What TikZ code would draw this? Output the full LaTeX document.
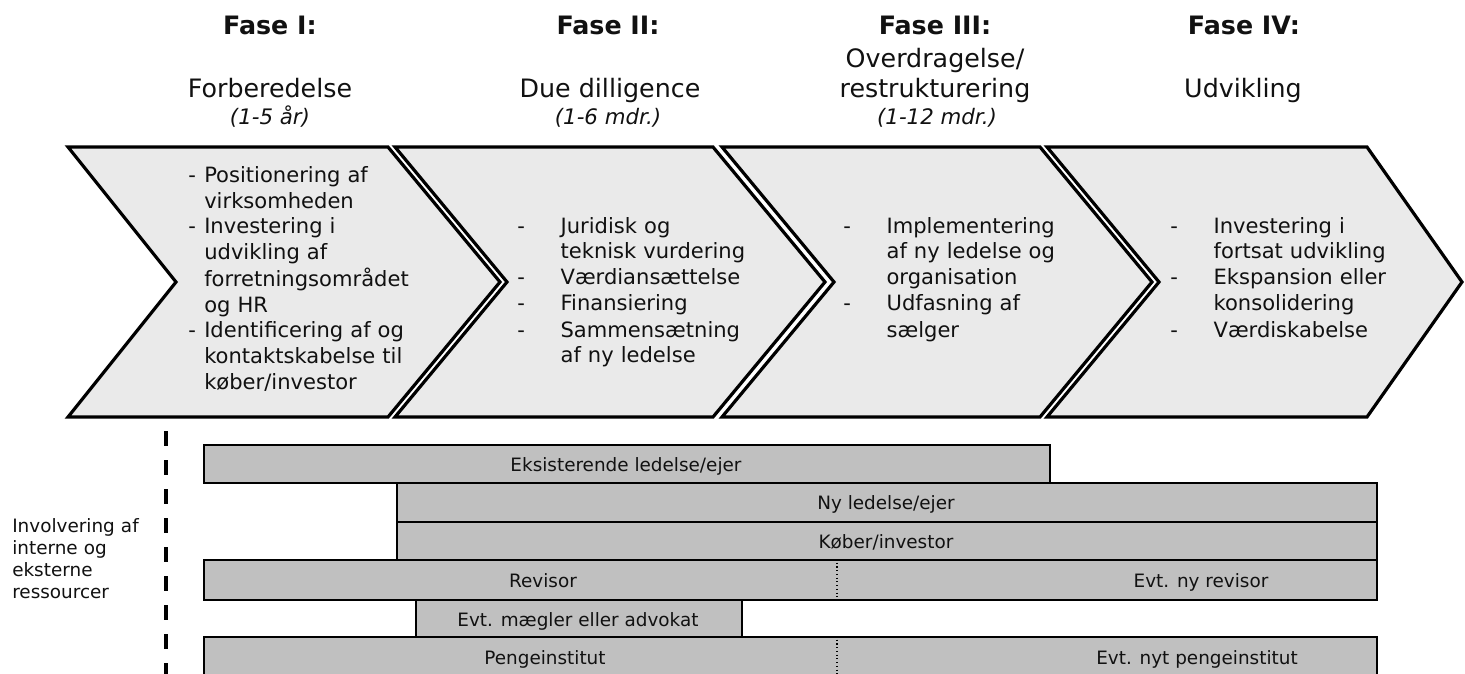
\documentclass[tikz,border=0pt]{standalone}
\usepackage{fontspec}
\setmainfont{DejaVu Sans}
\definecolor{chev}{HTML}{EAEAEA}
\definecolor{barfill}{HTML}{C0C0C0}
\definecolor{ink}{HTML}{111111}
\tikzset{
  chevron/.style={draw=black, line width=2.4pt, fill=chev, line join=miter},
  barbox/.style={draw=black, line width=1.5pt, fill=barfill, inner sep=0pt, anchor=north west, rectangle},
  bartext/.style={font=\fontsize{13.8}{16.5}\selectfont, text=ink, inner sep=0pt, anchor=base},
  phase/.style={font=\bfseries\fontsize{19}{22}\selectfont, text=ink, anchor=base, inner sep=0pt},
  ptitle/.style={font=\fontsize{19}{22}\selectfont, text=ink, anchor=base, inner sep=0pt},
  pdur/.style={font=\itshape\fontsize{16}{19}\selectfont, text=ink, anchor=base, inner sep=0pt},
  itemlist/.style={font=\fontsize{15.8}{19.5}\selectfont, text=ink, anchor=base west, align=left, inner sep=0pt, text width=260pt},
  sidelabel/.style={font=\fontsize{13.8}{16.5}\selectfont, text=ink, anchor=base west, align=left, inner sep=0pt, text width=150pt},
  divider/.style={draw=black, line width=0.8pt, dotted},
  involve/.style={draw=black, line width=2.3pt, dash pattern=on 11.25pt off 10.5pt}
}
\newcommand{\da}{\makebox[12pt][l]{-}}
\newcommand{\ia}{\hspace*{12pt}}
\newcommand{\db}{\makebox[32.5pt][l]{-}}
\newcommand{\ib}{\hspace*{32.5pt}}
\begin{document}
\begin{tikzpicture}[x=0.75pt, y=-0.75pt]
\useasboundingbox (0,0) rectangle (1465,674);

% Phase headers
\node[phase] (f1) at (270,35) {Fase I:};
\node[phase] (f2) at (608,35) {Fase II:};
\node[phase] (f3) at (935,35) {Fase III:};
\node[phase] (f4) at (1244,35) {Fase IV:};
\node[ptitle] (n3a) at (935,68) {Overdragelse/};
\node[ptitle] (n1) at (270,98) {Forberedelse};
\node[ptitle] (n2) at (610,98) {Due dilligence};
\node[ptitle] (n3) at (935,98) {restrukturering};
\node[ptitle] (n4) at (1243,98) {Udvikling};
\node[pdur] (d1) at (270,124) {(1-5 år)};
\node[pdur] (d2) at (608,124) {(1-6 mdr.)};
\node[pdur] (d3) at (937,124) {(1-12 mdr.)};

% Chevrons
\draw[chevron] (68,147) -- (388,147) -- (500,282) -- (388,417) -- (68,417) -- (176,282) -- cycle;
\draw[chevron] (395,147) -- (713,147) -- (825,282) -- (713,417) -- (395,417) -- (507,282) -- cycle;
\draw[chevron] (722,147) -- (1040,147) -- (1152,282) -- (1040,417) -- (722,417) -- (834,282) -- cycle;
\draw[chevron] (1047,147) -- (1367,147) -- (1462,282) -- (1367,417) -- (1047,417) -- (1159,282) -- cycle;

% Chevron texts
\node[itemlist] (l1) at (188,182) {\da Positionering af\\\ia virksomheden\\\da Investering i\\\ia udvikling af\\\ia forretningsområdet\\\ia og HR\\\da Identificering af og\\\ia kontaktskabelse til\\\ia køber/investor};
\node[itemlist] (l2) at (517,233) {\db Juridisk og\\\ib teknisk vurdering\\\db Værdiansættelse\\\db Finansiering\\\db Sammensætning\\\ib af ny ledelse};
\node[itemlist] (l3) at (843,233) {\db Implementering\\\ib af ny ledelse og\\\ib organisation\\\db Udfasning af\\\ib sælger};
\node[itemlist] (l4) at (1170,233) {\db Investering i\\\ib fortsat udvikling\\\db Ekspansion eller\\\ib konsolidering\\\db Værdiskabelse};

% Side label and dashed line
\node[sidelabel] (side) at (12,532) {Involvering af\\interne og\\eksterne\\ressourcer};
\coordinate (dtop) at (166,431);
\coordinate (dbot) at (166,676);
\draw[involve] (dtop) -- (dbot);

% Bars
\node[barbox, minimum width=846*0.75pt, minimum height=38*0.75pt] (b1) at (203,444) {};
\node[barbox, minimum width=980*0.75pt, minimum height=39*0.75pt] (b2) at (396,482) {};
\node[barbox, minimum width=980*0.75pt, minimum height=38*0.75pt] (b3) at (396,521) {};
\node[barbox, minimum width=1173*0.75pt, minimum height=40*0.75pt] (b4) at (203,559) {};
\node[barbox, minimum width=326*0.75pt, minimum height=37*0.75pt] (b5) at (415,599) {};
\node[barbox, minimum width=1173*0.75pt, minimum height=42*0.75pt] (b6) at (203,636) {};

\coordinate (r1) at (837,559);
\coordinate (r2) at (837,599);
\coordinate (p1) at (837,636);
\coordinate (p2) at (837,676);
\draw[divider] (r1) -- (r2);
\draw[divider] (p1) -- (p2);

\node[bartext] (t1) at (626,471.5) {Eksisterende ledelse/ejer};
\node[bartext] (t2) at (886,509.5) {Ny ledelse/ejer};
\node[bartext] (t3) at (886,548) {Køber/investor};
\node[bartext] (t4a) at (543,587) {Revisor};
\node[bartext] (t4b) at (1201,587) {Evt. ny revisor};
\node[bartext] (t5) at (578,626) {Evt. mægler eller advokat};
\node[bartext] (t6a) at (545,664) {Pengeinstitut};
\node[bartext] (t6b) at (1197,664) {Evt. nyt pengeinstitut};
\end{tikzpicture}
\end{document}
